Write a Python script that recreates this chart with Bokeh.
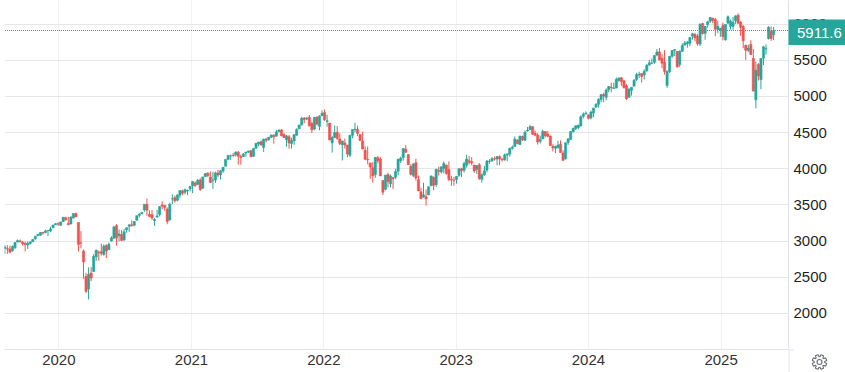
import math
from datetime import datetime
import pandas as pd
from bokeh.plotting import figure
from bokeh.embed import file_html
from bokeh.resources import INLINE
from bokeh.models import Range1d, FixedTicker, DatetimeTickFormatter, Label, ColumnDataSource

first_week = "2019-08-05"
last_price = 5911.6
price_ticks = [2000, 2500, 3000, 3500, 4000, 4500, 5000, 5500, 6000]
year_ticks = ["2020-01-01", "2021-01-01", "2022-01-01", "2023-01-01", "2024-01-01", "2025-01-01"]

opens = [
 2898,2894,2890,2866,2910,2988,3002,2984,2968,2945,2966,2992,3032,3078,3080,3118,3118,3144,3141,3183,3225,3240,
 3218,3271,3321,3244,3235,3318,3380,3258,2975,2863,2509,2337,2558,2578,2782,2846,2854,2815,2938,2881,3000,3039,3213,3075,3094,3018,3155,3205,3225,3219,3288,3356,3380,3431,3509,3371,3364,3285,3333,3367,3500,3493,3441,3296,3583,3600,3566,3634,3694,3675,3694,3723,
 3764,3803,3781,3844,3731,3892,3939,3885,3842,3844,3942,3917,3969,4034,4130,4179,4186,4192,4229,4169,4168,4217,4230,4249,4174,4285,4344,4372,4296,4409,4406,4437,4462,4450,4513,4536,4474,4402,4442,4348,4385,4463,4553,4610,4702,4689,4712,4628,4548,4710,4588,4733,
 4778,4655,4632,4357,4431,4505,4412,4332,4355,4328,4188,4462,4541,4547,4474,4385,4255,4130,4081,4013,3920,4151,4135,3839,3715,3920,3792,3880,3884,3966,4112,4155,4270,4195,4034,3909,4084,3849,3682,3610,3612,3638,3764,3882,3780,3977,3956,4006,4052,3990,3853,3843,
 3853,3910,3999,3979,4050,4110,4097,4052,3992,4055,3855,3917,3982,4102,4110,4140,4134,4167,4136,4126,4190,4205,4282,4308,4396,4337,4450,4394,4522,4543,4584,4491,4465,4380,4412,4515,4480,4452,4310,4284,4289,4340,4218,4139,4364,4406,4512,4555,4568,4593,4726,4758,
 4745,4704,4772,4853,4892,4957,5026,4989,5094,5130,5111,5115,5220,5258,5218,5149,4988,5084,5142,5233,5298,5316,5298,5354,5432,5459,5472,5572,5615,5529,5476,5151,5345,5556,5637,5623,5442,5623,5711,5727,5737,5833,5857,5833,5724,6008,5874,5992,6040,6083,6063,5925,5920,
 5982,5782,6014,5969,5969,6047,6121,6026,5968,5706,5636,5718,5527,4953,5441,5232,5529,5655,5800,5902,5854]
highs = [
 2945,2943,2939,2940,2985,3022,3022,3002,2992,2993,3003,3027,3066,3098,3121,3128,3158,3151,3198,3226,3248,3258,
 3267,3330,3338,3337,3348,3385,3394,3260,3137,2883,2562,2637,2641,2819,2879,2868,2964,2955,2955,2981,3068,3211,3233,3160,3155,3165,3186,3238,3287,3272,3352,3387,3399,3509,3588,3425,3429,3320,3431,3482,3550,3502,3464,3529,3646,3628,3646,3699,3712,3726,3711,3760,
 3826,3823,3859,3870,3889,3937,3950,3961,3960,3960,3983,3978,4020,4129,4191,4195,4219,4238,4246,4197,4218,4234,4249,4262,4286,4356,4372,4393,4415,4429,4440,4468,4479,4537,4545,4549,4492,4465,4466,4429,4475,4559,4608,4718,4714,4718,4744,4652,4713,4731,4741,4808,
 4819,4749,4632,4453,4596,4590,4490,4385,4416,4329,4465,4546,4637,4594,4471,4513,4308,4308,4082,4091,4159,4178,4164,3838,3913,3946,3919,3880,3999,4141,4168,4280,4326,4204,4062,4076,4139,3906,3736,3806,3712,3751,3905,3894,3999,4028,4034,4101,4053,4101,3902,3887,
 3895,4003,4015,4098,4196,4176,4163,4050,4048,4079,3937,4039,4110,4133,4164,4170,4170,4186,4143,4212,4212,4290,4323,4448,4408,4458,4456,4528,4578,4607,4584,4527,4490,4458,4541,4516,4522,4461,4340,4320,4385,4393,4255,4366,4415,4520,4568,4595,4609,4738,4779,4793,
 4754,4803,4842,4907,4975,5030,5049,5111,5140,5190,5189,5262,5264,5264,5220,5168,5114,5124,5240,5325,5342,5315,5376,5447,5506,5524,5570,5655,5670,5585,5640,5360,5561,5642,5650,5623,5636,5733,5767,5765,5822,5878,5879,5863,6012,6018,5972,6044,6099,6085,6085,6050,5942,
 6021,5991,6119,6063,6101,6117,6147,6043,5987,5716,5715,5777,5655,5481,5460,5528,5700,5720,5969,5968,5962]
lows = [
 2822,2825,2834,2853,2891,2981,2979,2939,2856,2892,2952,2992,3018,3066,3075,3091,3108,3070,3124,3183,3222,3212,
 3214,3264,3281,3223,3235,3315,3328,2855,2901,2478,2280,2192,2447,2578,2727,2727,2798,2798,2766,2881,2994,3039,2936,2994,3004,2999,3115,3127,3200,3204,3285,3328,3369,3405,3349,3329,3292,3209,3323,3342,3441,3419,3233,3280,3511,3532,3549,3594,3633,3646,3636,3687,
 3663,3750,3781,3694,3725,3885,3884,3806,3723,3805,3886,3853,3944,4034,4118,4118,4167,4168,4057,4056,4161,4167,4220,4165,4164,4279,4310,4321,4233,4365,4385,4422,4347,4448,4513,4447,4428,4305,4278,4278,4329,4459,4547,4595,4630,4672,4585,4495,4532,4598,4531,4733,
 4662,4582,4395,4223,4431,4401,4327,4115,4279,4158,4161,4424,4506,4450,4381,4268,4118,4062,3859,3810,3875,4074,3901,3637,3703,3741,3742,3721,3858,3910,4080,4113,4218,4057,3906,3886,3838,3693,3584,3599,3491,3638,3764,3704,3751,3906,3933,3938,3918,3828,3765,3766,
 3795,3887,3885,3949,4015,4060,4047,3943,3928,3847,3808,3901,3951,4069,4095,4113,4049,4048,4099,4110,4103,4166,4264,4308,4341,4328,4385,4386,4514,4532,4467,4448,4335,4350,4412,4433,4435,4317,4238,4216,4284,4224,4103,4126,4329,4406,4504,4537,4546,4584,4698,4751,
 4682,4682,4715,4841,4845,4918,4920,4946,5058,5057,5105,5118,5204,5147,5108,4954,4990,5011,5143,5212,5257,5191,5234,5341,5451,5447,5452,5556,5497,5390,5302,5119,5322,5535,5560,5400,5406,5615,5703,5674,5695,5784,5762,5702,5696,5853,5783,5950,6016,6012,5833,5873,5824,
 5774,5774,6000,5923,5920,6003,6008,5837,5666,5505,5611,5572,5069,4835,5220,5101,5433,5578,5787,5768,5780]
closes = [
 2919,2889,2847,2926,2979,3007,2992,2962,2952,2970,2986,3022,3067,3093,3120,3110,3141,3146,3169,3221,3240,3235,
 3265,3330,3295,3225,3328,3380,3338,2954,2972,2711,2305,2541,2489,2790,2875,2837,2831,2930,2864,2955,3044,3194,3041,3098,3009,3130,3185,3224,3215,3271,3351,3373,3397,3508,3427,3341,3319,3298,3348,3477,3484,3465,3270,3510,3585,3557,3638,3699,3663,3709,3703,3756,
 3825,3768,3841,3714,3887,3935,3907,3811,3842,3943,3913,3974,4020,4129,4185,4180,4181,4233,4174,4156,4204,4230,4247,4166,4281,4352,4369,4327,4411,4395,4436,4468,4441,4509,4535,4458,4432,4455,4357,4391,4471,4544,4605,4697,4682,4698,4594,4538,4712,4620,4725,4766,
 4677,4663,4398,4432,4500,4419,4349,4385,4329,4204,4463,4543,4546,4488,4392,4272,4132,4123,4024,3901,4158,4109,3901,3675,3912,3825,3899,3863,3962,4130,4145,4280,4228,4057,3924,4067,3873,3693,3585,3639,3583,3752,3901,3771,3993,3965,4026,4072,3934,3852,3845,3840,
 3895,3999,3973,4071,4136,4090,4079,3970,4046,3862,3917,3971,4109,4105,4138,4134,4169,4136,4124,4191,4205,4282,4298,4410,4348,4450,4399,4505,4536,4582,4478,4464,4370,4405,4516,4457,4450,4320,4288,4309,4327,4224,4117,4358,4415,4514,4559,4595,4604,4719,4755,4769,
 4697,4784,4840,4891,4959,5027,5006,5089,5137,5123,5117,5234,5254,5204,5123,4967,5100,5128,5223,5303,5305,5277,5347,5431,5465,5460,5567,5615,5505,5459,5346,5344,5554,5635,5648,5408,5626,5703,5738,5751,5815,5865,5808,5729,5995,5871,5969,6032,6090,6051,5930,5970,5942,
 5827,5997,6101,6041,6026,6115,6013,5955,5770,5639,5668,5581,5074,5363,5283,5525,5686,5660,5958,5802,5911.6]

assert len(opens) == len(highs) == len(lows) == len(closes), (len(opens), len(highs), len(lows), len(closes))

UP, DOWN = "#26a69a", "#ef5350"
AXIS = "#e0e3eb"
weeks = pd.date_range(first_week, periods=len(closes), freq="7D")
colors = [UP if c >= o else DOWN for o, c in zip(opens, closes)]
src = ColumnDataSource(dict(t=weeks, o=opens, h=highs, l=lows, c=closes, col=colors))

origin = pd.Timestamp("2020-01-01")
x_start = origin - pd.Timedelta(days=150)
x_end = origin + pd.Timedelta(days=2013)
p = figure(width=845, height=372, x_axis_type="datetime", y_axis_location="right",
           output_backend="svg", toolbar_location=None, tools="",
           x_range=Range1d(x_start, x_end),
           y_range=Range1d(1501, 6326.4),
           min_border_left=4, min_border_right=57, min_border_top=0, min_border_bottom=23,
           background_fill_color="white", border_fill_color="white", outline_line_color=None,
           styles={"position": "absolute", "left": "0px", "top": "0px"})

tick_ms = [pd.Timestamp(datetime.fromisoformat(y)).timestamp() * 1000 for y in year_ticks]
p.xaxis.ticker = FixedTicker(ticks=tick_ms)
p.xaxis.formatter = DatetimeTickFormatter(years="%Y", months="%Y", days="%Y", hours="%Y", minutes="%Y", seconds="%Y")
p.yaxis.ticker = FixedTicker(ticks=price_ticks)
for ax in (p.xaxis[0], p.yaxis[0]):
    ax.major_tick_line_color = None
    ax.minor_tick_line_color = None
    ax.major_tick_out = 0
    ax.major_tick_in = 0
    ax.minor_tick_out = 0
    ax.minor_tick_in = 0
    ax.axis_line_color = AXIS
    ax.major_label_text_font = "Liberation Sans"
    ax.major_label_text_font_size = "15px"
p.xaxis.major_label_text_color = "#333333"
p.yaxis.major_label_text_color = "#1f1f1f"
p.xaxis.major_label_standoff = 5
p.yaxis.major_label_standoff = 5
p.xgrid.grid_line_color = "#f0f3f5"
p.ygrid.grid_line_color = "#e6e6e6"
p.xgrid.ticker = FixedTicker(ticks=tick_ms)
p.ygrid.ticker = FixedTicker(ticks=price_ticks)

p.segment("t", "h", "t", "l", source=src, color="col", line_width=1)
p.vbar(x="t", top="o", bottom="c", width=6 * 86400000, source=src,
       fill_color="col", line_color="col", line_width=0.6)
# the line starts half a pixel into the frame so that its 1px dots fall on whole pixels
half_px = (x_end - x_start) / 784 / 2
p.line(x=[x_start + half_px, x_end], y=[last_price, last_price], line_color=UP, line_width=1, line_dash="1 1")

# price tag: its own small figure, laid over the price axis
tag = figure(width=57, height=26, output_backend="svg", toolbar_location=None, tools="",
             x_range=Range1d(0, 57), y_range=Range1d(26, 0), min_border=0,
             background_fill_color=UP, border_fill_color=UP, outline_line_color=None,
             styles={"position": "absolute", "left": "788px", "top": "19px"})
tag.axis.visible = False
tag.grid.visible = False
tag.add_layout(Label(x=8.5, y=13.5, text=f"{last_price:.1f}", text_color="white",
                     text_font="Liberation Sans", text_font_size="15px",
                     text_baseline="middle", text_align="left"))

# lower right corner: axis stubs and settings gear
corner = figure(width=59, height=26, output_backend="svg", toolbar_location=None, tools="",
                x_range=Range1d(786, 845), y_range=Range1d(372, 346), min_border=0,
                background_fill_color=None, border_fill_color=None, outline_line_color=None,
                styles={"position": "absolute", "left": "786px", "top": "346px"})
corner.axis.visible = False
corner.grid.visible = False
corner.segment(x0=[788.5, 788.5], y0=[349.5, 349.5], x1=[788.5, 793.5], y1=[372, 349.5],
               line_color=AXIS, line_width=1)
cx, cy = 819.0, 361.5
gx, gy = [], []
for k in range(8):
    a0 = k * math.pi / 4 + math.pi / 8
    for da, r in ((-0.30, 5.2), (-0.20, 7.4), (0.20, 7.4), (0.30, 5.2)):
        gx.append(cx + r * math.cos(a0 + da))
        gy.append(cy + r * math.sin(a0 + da))
corner.patch(gx + gx[:1], gy + gy[:1], fill_alpha=0, line_color="#6a6d78", line_width=1.1)
corner.circle(x=[cx], y=[cy], radius=2.5, fill_alpha=0, line_color="#6a6d78", line_width=1.1)

open("out.html", "w").write(file_html([p, tag, corner], INLINE))
